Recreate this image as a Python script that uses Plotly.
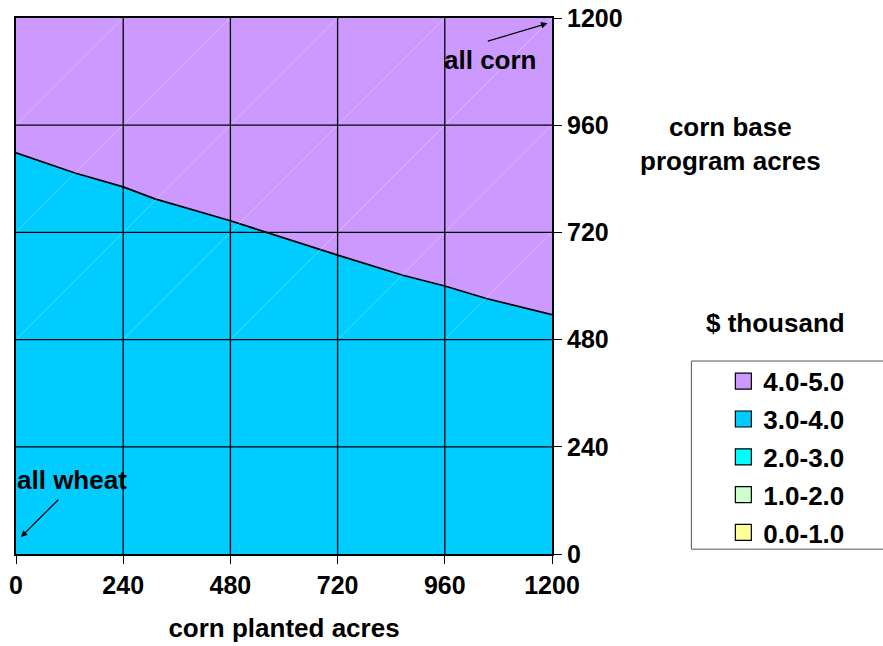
import plotly.graph_objects as go

# boundary between the $3-4k and $4-5k zones
corn_planted = [0, 132, 240, 311, 480, 680, 720, 866, 960, 1053, 1200]
base_acres = [898, 853, 822, 795, 746, 681, 669, 624, 600, 572, 536]

ticks = [0, 240, 480, 720, 960, 1200]

levels = ['4.0-5.0', '3.0-4.0', '2.0-3.0', '1.0-2.0', '0.0-1.0']
level_colors = ['#CC99FF', '#00CCFF', '#00FFFF', '#CCFFCC', '#FFFF99']

FONT = 'Arial, Liberation Sans, sans-serif'
lo, hi = ticks[0], ticks[-1]

fig = go.Figure()

# 3.0-4.0 zone under the boundary
fig.add_trace(go.Scatter(x=corn_planted, y=base_acres, mode='lines',
                         line=dict(color='black', width=1.7),
                         fill='tozeroy', fillcolor=level_colors[1],
                         showlegend=False, hoverinfo='skip'))
# 4.0-5.0 zone above it
fig.add_trace(go.Scatter(x=[lo, hi], y=[hi, hi], mode='lines',
                         line=dict(color='black', width=0),
                         fill='tonexty', fillcolor=level_colors[0],
                         showlegend=False, hoverinfo='skip'))

# faint surface triangulation lines in the upper rows
dx, dy = [], []
for j in range(2, len(ticks) - 1):
    for i in range(len(ticks) - 1):
        dx += [ticks[i], ticks[i + 1], None]
        dy += [ticks[j], ticks[j + 1], None]
fig.add_trace(go.Scatter(x=dx, y=dy, mode='lines',
                         line=dict(color='rgba(255,255,255,0.3)', width=1),
                         showlegend=False, hoverinfo='skip'))

# gridlines drawn above the fills
gx, gy = [], []
for t in ticks[1:-1]:
    gx += [t, t, None]
    gy += [lo, hi, None]
    gx += [lo, hi, None]
    gy += [t, t, None]
fig.add_trace(go.Scatter(x=gx, y=gy, mode='lines',
                         line=dict(color='black', width=1.3),
                         showlegend=False, hoverinfo='skip'))

# legend entries
for name, col in zip(levels, level_colors):
    fig.add_trace(go.Scatter(x=[None], y=[None], mode='markers', name=name,
                             legendgroup=name,
                             marker=dict(symbol='square', size=16, color=col,
                                         line=dict(color='black', width=1.2))))

txt = dict(family=FONT, size=26, color='black', weight='bold')
tick_font = dict(family=FONT, size=25, color='black', weight='bold')

fig.update_layout(
    width=883, height=646,
    margin=dict(l=16, r=331, t=18, b=92, autoexpand=False),
    paper_bgcolor='white', plot_bgcolor='white',
    font=txt,
    showlegend=True,
    legend=dict(x=1.3197, y=0.366, xanchor='left', yanchor='top',
                bgcolor='rgba(0,0,0,0)', borderwidth=0,
                tracegroupgap=1, traceorder='grouped', font=txt),
    xaxis=dict(range=[lo, hi], tickvals=ticks, showgrid=False, zeroline=False,
               showline=True, linecolor='black', linewidth=2, mirror=True,
               ticks='outside', ticklen=8, tickcolor='black', tickwidth=1,
               automargin=False, ticklabeloverflow='allow', tickfont=tick_font,
               title=dict(text='corn planted acres', standoff=21, font=txt),
               layer='above traces'),
    yaxis=dict(range=[lo, hi], tickvals=ticks, side='right', showgrid=False,
               zeroline=False, showline=True, linecolor='black', linewidth=2,
               mirror=True, ticks='outside', ticklen=8, tickcolor='black',
               tickwidth=1, automargin=False, ticklabeloverflow='allow',
               tickfont=tick_font, layer='above traces'),
    shapes=[dict(type='rect', xref='paper', yref='paper',
                 x0=1.26, x1=1.75, y0=0.009, y1=0.36,
                 line=dict(color='#555555', width=1), fillcolor='rgba(0,0,0,0)')],
    annotations=[
        dict(x=125, y=166, xref='x', yref='y', text='all wheat', showarrow=False,
             font=txt),
        dict(x=11, y=38, ax=98, ay=125, xref='x', yref='y', axref='x', ayref='y',
             text='', showarrow=True, arrowhead=2, arrowsize=1, arrowwidth=1.3,
             arrowcolor='black'),
        dict(x=1062, y=1105, xref='x', yref='y', text='all corn', showarrow=False,
             font=txt),
        dict(x=1190, y=1188, ax=1053, ay=1147, xref='x', yref='y', axref='x', ayref='y',
             text='', showarrow=True, arrowhead=2, arrowsize=1, arrowwidth=1.3,
             arrowcolor='black'),
        dict(x=1.333, y=0.765, xref='paper', yref='paper',
             xanchor='center', yanchor='middle',
             text='corn base<br>program acres', showarrow=False, font=txt),
        dict(x=1.4166, y=0.431, xref='paper', yref='paper',
             xanchor='center', yanchor='middle', text='$ thousand',
             showarrow=False, font=txt),
    ],
)

# drop the browser's default body margin so the figure sits at the page corner
fig.write_html("out.html", config={'displayModeBar': False},
               post_script="document.body.style.margin='0';")
